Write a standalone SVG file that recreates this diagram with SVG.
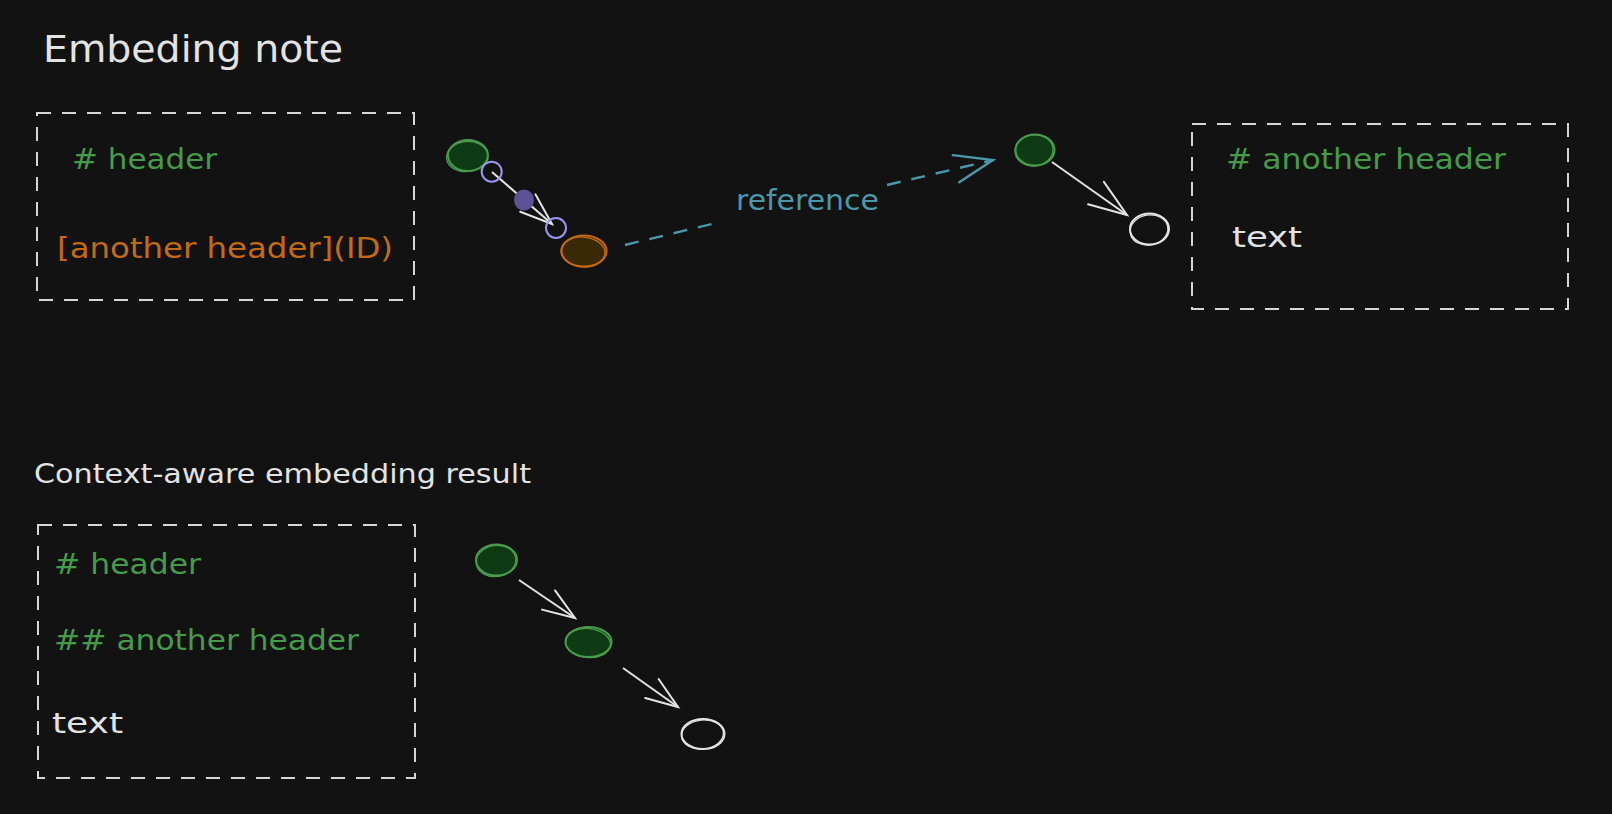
<svg xmlns="http://www.w3.org/2000/svg" width="1612" height="814" viewBox="0 0 1612 814">
<style>
  text { font-family: "DejaVu Sans", "Liberation Sans", sans-serif; }
  .t-title { font-size: 38px; fill: #e3e3e3; }
  .t-sub { font-size: 26px; fill: #e3e3e3; }
  .t-green { font-size: 28px; fill: #469a4b; }
  .t-orange { font-size: 28px; fill: #c46b12; }
  .t-white { font-size: 28px; fill: #e3e3e3; }
  .t-blue { font-size: 28px; fill: #4b98aa; }
  .box { fill: none; stroke: #d6d6d6; stroke-width: 2; stroke-dasharray: 14 11; }
  .gnode { fill: #0f3b14; stroke: #4a9a4e; stroke-width: 2; }
  .gline { fill: none; stroke: #4a9a4e; stroke-width: 1.3; }
  .onode { fill: #3a2906; stroke: #c46b12; stroke-width: 2; }
  .oline { fill: none; stroke: #c46b12; stroke-width: 1.3; }
  .wnode { fill: #121212; stroke: #e3e3e3; stroke-width: 2; }
  .wline { fill: none; stroke: #e3e3e3; stroke-width: 1.3; }
  .edge { fill: none; stroke: #e3e3e3; stroke-width: 2; }
  .edge-ref { fill: none; stroke: #4b98aa; stroke-width: 2.4; stroke-dasharray: 14 11; }
  .handle { fill: none; stroke: #9a96f0; stroke-width: 2; }
</style>
<defs>
  <marker id="head-s" markerUnits="userSpaceOnUse" viewBox="-40 -20 44 40" refX="0" refY="0" markerWidth="44" markerHeight="40" orient="auto">
    <path d="M -32 -11.6 L 0 0 L -32 11.6" fill="none" stroke="#e3e3e3" stroke-width="2" stroke-linecap="round"/>
  </marker>
  <marker id="head-l" markerUnits="userSpaceOnUse" viewBox="-44 -20 48 40" refX="0" refY="0" markerWidth="48" markerHeight="40" orient="auto">
    <path d="M -38 -13.7 L 0 0 L -38 13.7" fill="none" stroke="#e3e3e3" stroke-width="2" stroke-linecap="round"/>
  </marker>
  <marker id="head-blue" markerUnits="userSpaceOnUse" viewBox="-44 -20 48 40" refX="0" refY="0" markerWidth="48" markerHeight="40" orient="auto">
    <path d="M -38 -14 L 0 0 L -38 14" fill="none" stroke="#4b98aa" stroke-width="2.4" stroke-linecap="round"/>
  </marker>
</defs>
<rect width="1612" height="814" fill="#121212"/>

<g id="title-embedding-note">
  <text class="t-title" x="43" y="62" textLength="300" lengthAdjust="spacingAndGlyphs">Embeding note</text>
</g>

<g id="note-box">
  <rect class="box" x="37" y="113" width="377" height="187"/>
  <text class="t-green" x="72" y="169" textLength="145" lengthAdjust="spacingAndGlyphs"># header</text>
  <text class="t-orange" x="57" y="258" textLength="336" lengthAdjust="spacingAndGlyphs">[another header](ID)</text>
</g>

<g id="node-header-top">
  <ellipse class="gnode" cx="468" cy="155.5" rx="20" ry="15.5"/>
  <ellipse class="gline" cx="467" cy="156.5" rx="20.5" ry="15" transform="rotate(-6 467 156.5)"/>
</g>

<g id="node-link">
  <ellipse class="onode" cx="584" cy="251" rx="22.5" ry="15.5"/>
  <ellipse class="oline" cx="583" cy="252" rx="22" ry="15" transform="rotate(5 583 252)"/>
</g>

<g id="node-another-header">
  <ellipse class="gnode" cx="1035" cy="150" rx="19.5" ry="15.5"/>
  <ellipse class="gline" cx="1034" cy="150.5" rx="19" ry="15.5" transform="rotate(-8 1034 150.5)"/>
</g>

<g id="node-text-top">
  <ellipse class="wnode" cx="1149.5" cy="229" rx="19.5" ry="15.5"/>
  <ellipse class="wline" cx="1149" cy="230" rx="19" ry="15" transform="rotate(-10 1149 230)"/>
</g>

<g id="target-box">
  <rect class="box" x="1192" y="124" width="376" height="185"/>
  <text class="t-green" x="1226" y="169" textLength="280" lengthAdjust="spacingAndGlyphs"># another header</text>
  <text class="t-white" x="1232" y="247" textLength="70" lengthAdjust="spacingAndGlyphs">text</text>
</g>

<g id="title-context-aware">
  <text class="t-sub" x="34" y="483" textLength="497" lengthAdjust="spacingAndGlyphs">Context-aware embedding result</text>
</g>

<g id="result-box">
  <rect class="box" x="38" y="525" width="377" height="253"/>
  <text class="t-green" x="54" y="574" textLength="147" lengthAdjust="spacingAndGlyphs"># header</text>
  <text class="t-green" x="54" y="650" textLength="305" lengthAdjust="spacingAndGlyphs">## another header</text>
  <text class="t-white" x="52" y="733" textLength="71" lengthAdjust="spacingAndGlyphs">text</text>
</g>

<g id="node-result-header">
  <ellipse class="gnode" cx="496.5" cy="560" rx="20.5" ry="15.5"/>
  <ellipse class="gline" cx="496" cy="561" rx="20" ry="15.5" transform="rotate(-8 496 561)"/>
</g>

<g id="node-result-another">
  <ellipse class="gnode" cx="588.5" cy="642" rx="23" ry="15"/>
  <ellipse class="gline" cx="588" cy="643" rx="22.5" ry="14.5" transform="rotate(6 588 643)"/>
</g>

<g id="node-result-text">
  <ellipse class="wnode" cx="703" cy="734" rx="21.5" ry="15"/>
  <ellipse class="wline" cx="702.5" cy="734.5" rx="21" ry="14.5" transform="rotate(-6 702.5 734.5)"/>
</g>

<g id="connectors">
  <line class="edge" x1="492" y1="172" x2="552" y2="224" marker-end="url(#head-s)"/>
  <path class="edge-ref" d="M 625 245 L 720 222"/>
  <path class="edge-ref" d="M 887 185 L 993 160" marker-end="url(#head-blue)"/>
  <text class="t-blue" x="736" y="210" textLength="143" lengthAdjust="spacingAndGlyphs">reference</text>
  <line class="edge" x1="1052" y1="162" x2="1127" y2="215" marker-end="url(#head-l)"/>
  <line class="edge" x1="519" y1="580" x2="575" y2="618" marker-end="url(#head-s)"/>
  <line class="edge" x1="623" y1="668" x2="678" y2="707" marker-end="url(#head-s)"/>
</g>

<g id="selection-handles">
  <circle class="handle" cx="491.7" cy="171.7" r="10"/>
  <circle class="handle" cx="556" cy="228" r="10"/>
  <ellipse cx="524" cy="200" rx="10" ry="10.5" fill="#5c5295"/>
</g>
</svg>
